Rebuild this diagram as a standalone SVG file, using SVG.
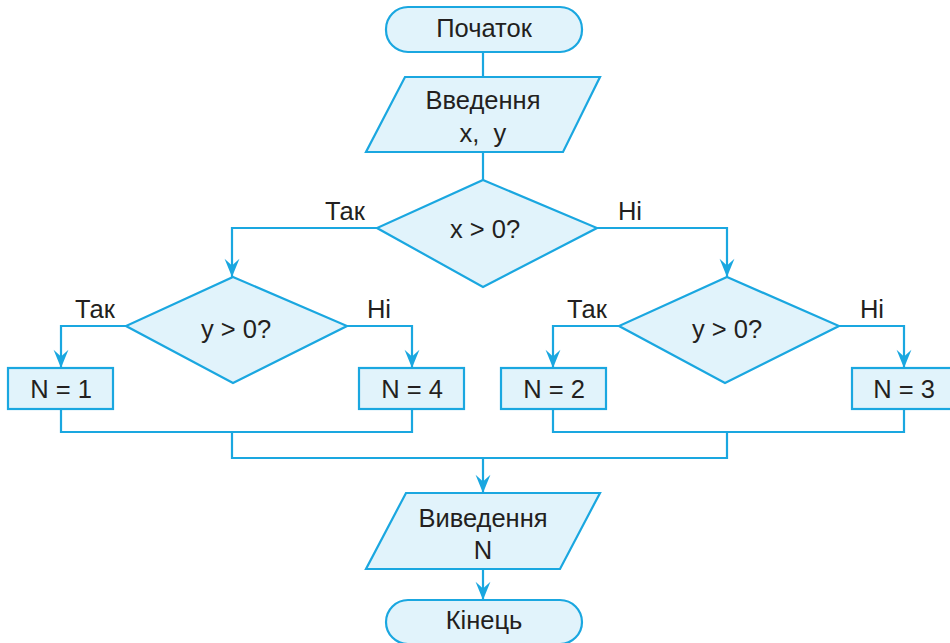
<svg xmlns="http://www.w3.org/2000/svg" width="950" height="643" viewBox="0 0 950 643">
<defs>
<style>
.n{fill:#e1f3fb;stroke:#1aa7e0;stroke-width:2.2}
.c{fill:none;stroke:#1aa7e0;stroke-width:2.2}
text{font-family:"Liberation Sans",Arial,sans-serif;font-size:25.5px;fill:#231f20;text-anchor:middle}
</style>
<marker id="ah" markerUnits="userSpaceOnUse" markerWidth="20" markerHeight="16" viewBox="-16 -7 17 14" refX="0" refY="0" orient="auto">
<path d="M0,0 L-16,-6.5 L-10,0 L-16,6.5 Z" fill="#1aa7e0"/>
</marker>
</defs>
<rect width="950" height="643" fill="#fff"/>
<g id="connectors">
<path class="c" d="M483,52 V77"/>
<path class="c" d="M483,152 V180"/>
<path class="c" d="M377,228 H232 V277" marker-end="url(#ah)"/>
<path class="c" d="M597,228 H727 V277" marker-end="url(#ah)"/>
<path class="c" d="M126,326 H61 V368" marker-end="url(#ah)"/>
<path class="c" d="M347,326 H412 V368" marker-end="url(#ah)"/>
<path class="c" d="M619,326 H553 V368" marker-end="url(#ah)"/>
<path class="c" d="M839,326 H904 V368" marker-end="url(#ah)"/>
<path class="c" d="M61,409 V432 H412 V409"/>
<path class="c" d="M553,409 V432 H904 V409"/>
<path class="c" d="M232,432 V458 H727 V432"/>
<path class="c" d="M483,458 V493" marker-end="url(#ah)"/>
<path class="c" d="M483,569 V600" marker-end="url(#ah)"/>
</g>
<g id="start">
<rect class="n" x="386" y="7" width="196" height="45" rx="22"/>
<text x="484" y="37">Початок</text>
</g>
<g id="input">
<polygon class="n" points="405,77 600,77 563,152 366,152"/>
<text x="483" y="109">Введення</text>
<text x="483" y="142">x,&#160; y</text>
</g>
<g id="cond-x">
<polygon class="n" points="483,180 597,228 483,287 377,228"/>
<text x="485" y="238">x &gt; 0?</text>
<text x="345" y="220">Так</text>
<text x="630" y="220">Ні</text>
</g>
<g id="cond-y1">
<polygon class="n" points="233,277 347,326 233,383 126,326"/>
<text x="236" y="338">y &gt; 0?</text>
<text x="95" y="318">Так</text>
<text x="379" y="318">Ні</text>
</g>
<g id="cond-y2">
<polygon class="n" points="727,277 839,326 725,383 619,326"/>
<text x="727" y="338">y &gt; 0?</text>
<text x="587" y="318">Так</text>
<text x="872" y="318">Ні</text>
</g>
<g id="n1">
<rect class="n" x="8" y="368" width="105" height="41"/>
<text x="61" y="398">N = 1</text>
</g>
<g id="n4">
<rect class="n" x="359" y="368" width="105" height="41"/>
<text x="412" y="398">N = 4</text>
</g>
<g id="n2">
<rect class="n" x="501" y="368" width="105" height="41"/>
<text x="554" y="398">N = 2</text>
</g>
<g id="n3">
<rect class="n" x="852" y="368" width="106" height="41"/>
<text x="904" y="398">N = 3</text>
</g>
<g id="output">
<polygon class="n" points="406,493 600,493 560,569 366,569"/>
<text x="483" y="527">Виведення</text>
<text x="483" y="559">N</text>
</g>
<g id="end">
<rect class="n" x="386" y="600" width="196" height="44" rx="22"/>
<text x="484" y="629">Кінець</text>
</g>
</svg>
